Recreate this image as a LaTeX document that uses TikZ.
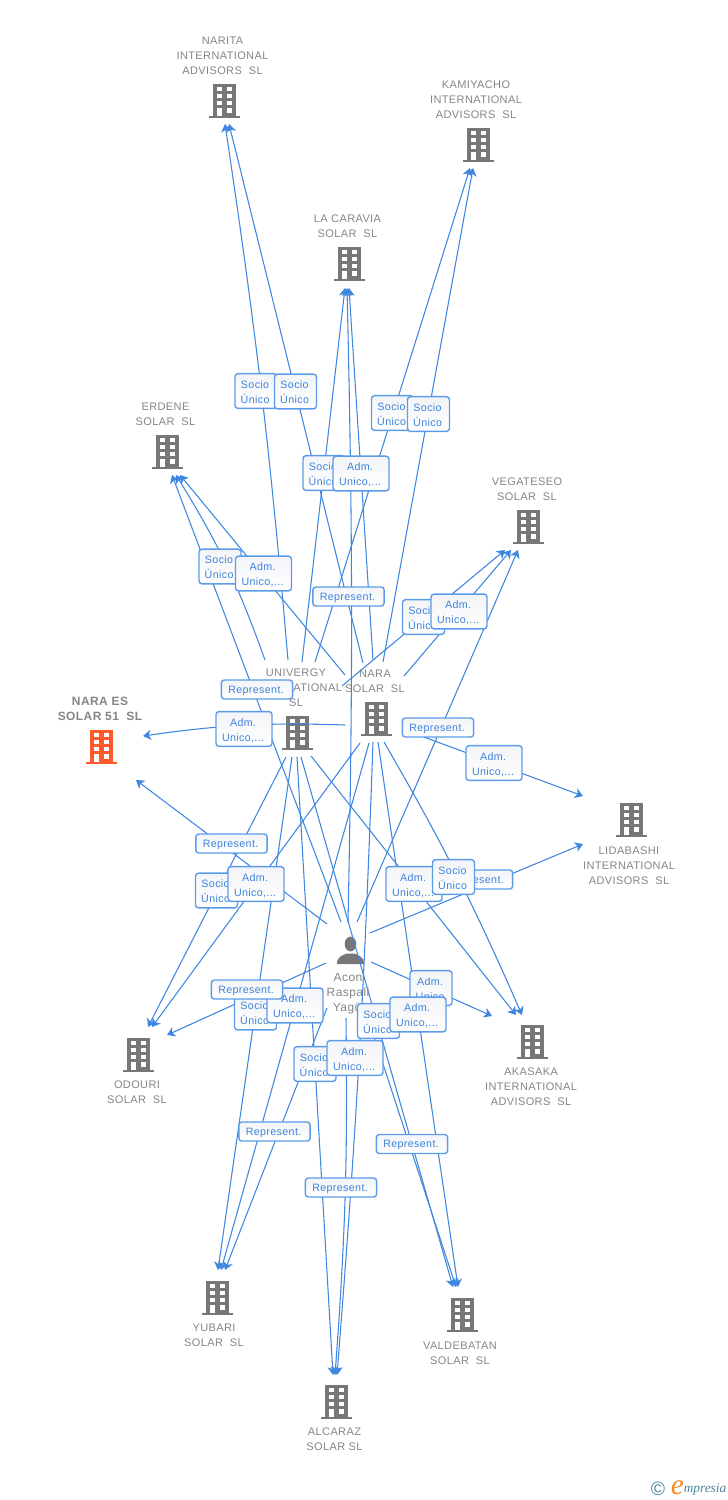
\documentclass[tikz,border=0pt]{standalone}
\usepackage{fontspec}
\usetikzlibrary{calc,arrows.meta}
\setmainfont{Liberation Sans}
\newfontfamily\lblf[LetterSpace=3.5]{Liberation Sans}
\newfontfamily\logof{Liberation Serif}
\definecolor{linkc}{HTML}{3F86E0}
\definecolor{boxc}{HTML}{5C9BEA}
\definecolor{boxtxt}{HTML}{3D82DC}
\definecolor{boxtop}{HTML}{F3F4F7}
\definecolor{capc}{HTML}{858585}
\definecolor{iconc}{HTML}{777777}
\definecolor{orangec}{HTML}{FF5A2C}
\definecolor{logoc}{HTML}{4A8299}
\definecolor{logoo}{HTML}{F58A1F}
\tikzset{
  link/.style={draw=linkc,line width=.8pt,-{Stealth[length=6pt,width=7.6pt,inset=1.7pt]}},
  tag/.style={draw=boxc,line width=1.05pt,rounded corners=2.2pt,top color=boxtop,bottom color=white,
    text=boxtxt,inner sep=0pt,align=center,font=\lblf\fontsize{8pt}{11.25pt}\selectfont},
  soc/.style={tag,minimum width=31.5pt,minimum height=26pt,text height=18pt,text depth=0pt},
  adm/.style={tag,minimum width=42pt,minimum height=26pt,text height=18pt,text depth=0pt},
  rep/.style={tag,minimum width=53.5pt,minimum height=14.2pt,text height=5.7pt,text depth=0pt},
  captxt/.style={text=capc,inner sep=0pt,align=center,yshift=-.4pt,font=\lblf\fontsize{8.25pt}{11.25pt}\selectfont},
  captxtb/.style={captxt,font=\lblf\bfseries\fontsize{9pt}{11.25pt}\selectfont},
  icon/.style={inner sep=0pt,minimum width=23.5pt,minimum height=25.5pt},
}
\newcommand\bldg[4]{%
  \node[icon] (#1) at (#2,#3) {};
  \begin{scope}[shift={(#1.center)}]
    \fill[#4] (-11.5,-17) rectangle (11.5,14.5);
    \fill[#4] (-15.5,14.5) rectangle (15.5,17);
    \foreach \yy in {-14,-7,0}{
      \fill[white] (-7.5,\yy) rectangle (-2.5,\yy+4.3);
      \fill[white] (2.5,\yy) rectangle (7.5,\yy+4.3);
    }
    \fill[white] (-7.5,7) rectangle (-2.5,14.5);
    \fill[white] (2.5,7) rectangle (7.5,11.5);
  \end{scope}}
\newcommand\lnk[5][]{\draw[link,#1] ($(#2)+(#3)$) to ($(#4)+(#5)$);}
\newcommand\twol[2]{#1\kern1.4pt\\#2\kern1.4pt}
\begin{document}
\begin{tikzpicture}[x=.75pt,y=-.75pt]
\useasboundingbox (0,0) rectangle (728,1500);
% buildings
\bldg{narita}{224.5}{101}{iconc}
\bldg{kami}{478}{145}{iconc}
\bldg{carav}{349.5}{264}{iconc}
\bldg{erdene}{167.5}{452}{iconc}
\bldg{vega}{528}{527}{iconc}
\bldg{uni}{297.5}{733}{iconc}
\bldg{nara}{376.5}{719}{iconc}
\bldg{naraes}{101.5}{747}{orangec}
\bldg{lida}{631}{820}{iconc}
\bldg{odouri}{138.5}{1055}{iconc}
\bldg{akasaka}{532.5}{1042}{iconc}
\bldg{yubari}{217}{1298}{iconc}
\bldg{valde}{462.5}{1315}{iconc}
\bldg{alcaraz}{336.5}{1402}{iconc}
% person
\node[icon,minimum width=20pt,minimum height=20pt] (person) at (350.5,950.5) {};
\begin{scope}[shift={(person.center)}]
  \fill[iconc] (0,-6.5) ellipse (5.8 and 7.4);
  \fill[iconc] (-13.5,13.5) .. controls (-13.5,6) and (-8,5) .. (-4,3) -- (4,3) .. controls (8,5) and (13.5,6) .. (13.5,13.5) -- cycle;
\end{scope}
% connectors
\lnk[bend right=1.8]{uni}{-9.5,-73}{narita}{0.5,23}
\lnk{nara}{-13.5,-56}{narita}{4.5,23}
\lnk{uni}{17.5,-71}{kami}{-8,23}
\lnk{nara}{6.5,-57}{kami}{-5,23}
\lnk{uni}{4.5,-71}{carav}{-4.5,24}
\lnk{nara}{-3.5,-59}{carav}{-0.5,24}
\lnk[bend right=1.25]{person}{-2.5,-28.5}{carav}{-2.5,24}
\lnk[bend right=6]{uni}{-32.5,-73}{erdene}{8.5,23}
\lnk{person}{-9.5,-28.5}{erdene}{4.5,23}
\lnk{nara}{-31.5,-44}{erdene}{12.5,23}
\lnk{uni}{44.5,-47}{vega}{-23,23}
\lnk{nara}{27.5,-43}{vega}{-17,23}
\lnk{person}{6.5,-28.5}{vega}{-10,23}
\lnk[bend right=5]{nara}{-31.5,6}{naraes}{41.5,-11}
\lnk{person}{-23.5,-26.5}{naraes}{34.5,33}
\lnk{nara}{28.5,11}{lida}{-48,-24}
\lnk{person}{19.5,-17.5}{lida}{-48,24}
\lnk{uni}{-11.5,24}{odouri}{9.5,-28}
\lnk{nara}{-16.5,24}{odouri}{13.5,-28}
\lnk{person}{-24.5,12.5}{odouri}{28.5,-20}
\lnk{uni}{13.5,23}{akasaka}{-16.5,-27}
\lnk[bend left=3.2]{nara}{7.5,23}{akasaka}{-10.5,-27}
\lnk{person}{20.5,11.5}{akasaka}{-40.5,-26}
\lnk{uni}{-5.5,24}{yubari}{1,-28}
\lnk{nara}{-7.5,24}{yubari}{4,-28}
\lnk{person}{-23.5,57.5}{yubari}{8,-28}
\lnk{uni}{-0.5,24}{alcaraz}{-3.5,-27}
\lnk[bend left=1.25]{nara}{-3.5,23}{alcaraz}{0.5,-27}
\lnk[bend left=2.5]{person}{-4.5,67.5}{alcaraz}{-1.5,-27}
\lnk{nara}{1.5,23}{valde}{-4.5,-28}
\lnk{uni}{3.5,24}{valde}{-9.5,-28}
\lnk{person}{15.5,61.5}{valde}{-6.5,-28}
% captions
\node[captxt] (t-narita) at (222.5,55.5) {NARITA\\INTERNATIONAL\\ADVISORS\ \ SL};
\node[captxt] (t-kami) at (476,99.5) {KAMIYACHO\\INTERNATIONAL\\ADVISORS\ \ SL};
\node[captxt] (t-carav) at (347.5,225.5) {LA CARAVIA\\SOLAR\ \ SL};
\node[captxt] (t-erdene) at (165.5,413.5) {ERDENE\\SOLAR\ \ SL};
\node[captxt] (t-vega) at (527,488.5) {VEGATESEO\\SOLAR\ \ SL};
\node[captxt] (t-uni) at (296,687) {UNIVERGY\\INTERNATIONAL\\SL};
\node[captxt] (t-nara) at (375,680.5) {NARA\\SOLAR\ \ SL};
\node[captxtb] (t-naraes) at (100,708) {NARA ES\\SOLAR 51\ \ SL};
\node[captxt] (t-lida) at (629,865) {LIDABASHI\\INTERNATIONAL\\ADVISORS\ \ SL};
\node[captxt] (t-odouri) at (137,1091.5) {ODOURI\\SOLAR\ \ SL};
\node[captxt] (t-akasaka) at (531,1086) {AKASAKA\\INTERNATIONAL\\ADVISORS\ \ SL};
\node[captxt] (t-yubari) at (214,1334.5) {YUBARI\\SOLAR\ \ SL};
\node[captxt] (t-valde) at (460,1352.5) {VALDEBATAN\\SOLAR\ \ SL};
\node[captxt] (t-alcaraz) at (334.5,1438.5) {ALCARAZ\\SOLAR SL};
\node[captxt,font=\lblf\fontsize{9pt}{11.25pt}\selectfont] (t-person) at (348,993.5) {Acon\\Raspall\\Yagüe\kern-4pt};
% link labels, in stacking order
\node[soc] (s1) at (256,391) {\twol{Socio}{Único}};
\node[soc] (s2) at (295.5,391.5) {\twol{Socio}{Único}};
\node[soc] (s3) at (392.5,413) {\twol{Socio}{Único}};
\node[soc] (s4) at (428.5,414) {\twol{Socio}{Único}};
\node[soc] (s5) at (324,473) {\twol{Socio}{Único}};
\node[adm] (a1) at (361,473.5) {\twol{Adm.}{Unico,...}};
\node[soc] (s6) at (220,566.5) {\twol{Socio}{Único}};
\node[adm] (a2) at (263.5,573.5) {\twol{Adm.}{Unico,...}};
\node[rep] (r1) at (348.5,596.5) {Represent.\kern1.4pt};
\node[soc] (s7) at (423.5,617) {\twol{Socio}{Único}};
\node[adm] (a3) at (459,611.5) {\twol{Adm.}{Unico,...}};
\node[adm] (a4) at (244,729) {\twol{Adm.}{Unico,...}};
\node[rep] (r2) at (257,689.5) {Represent.\kern1.4pt};
\node[rep] (r3) at (438,727.5) {Represent.\kern1.4pt};
\node[adm] (a5) at (494,763) {\twol{Adm.}{Unico,...}};
\node[rep] (r4) at (231.5,843.5) {Represent.\kern1.4pt};
\node[soc] (s8) at (216.5,890.5) {\twol{Socio}{Único}};
\node[adm] (a6) at (256,884) {\twol{Adm.}{Unico,...}};
\node[rep] (r5) at (477,879.5) {Represent.\kern1.4pt};
\node[adm] (a7) at (414,884) {\twol{Adm.}{Unico,...}};
\node[soc] (s9) at (453.5,877) {\twol{Socio}{Único}};
\node[soc] (s10) at (255.5,1012.5) {\twol{Socio}{Único}};
\node[adm] (a8) at (295,1005.5) {\twol{Adm.}{Unico,...}};
\node[rep] (r6) at (247,989.5) {Represent.\kern1.4pt};
\node[soc] (a9) at (431,988) {\twol{Adm.}{Unico}};
\node[soc] (s11) at (378.5,1021) {\twol{Socio}{Único}};
\node[adm] (a10) at (418,1014.5) {\twol{Adm.}{Unico,...}};
\node[soc] (s12) at (315,1064) {\twol{Socio}{Único}};
\node[adm] (a11) at (355,1058) {\twol{Adm.}{Unico,...}};
\node[rep] (r7) at (274.5,1131.5) {Represent.\kern1.4pt};
\node[rep] (r8) at (412,1144) {Represent.\kern1.4pt};
\node[rep] (r9) at (341,1187.5) {Represent.\kern1.4pt};
% logo
\node[text=logoc,inner sep=0pt,font=\fontsize{14.5pt}{14.5pt}\selectfont] (logo-c) at (658,1489) {©};
\node[text=logoo,inner sep=0pt,font=\logof\itshape\fontsize{22pt}{22pt}\selectfont] (logo-e) at (677.5,1488) {e};
\node[text=logoc,inner sep=0pt,anchor=west,font=\logof\itshape\fontsize{10pt}{10pt}\selectfont] (logo-t) at (683.5,1489) {mpresia};
\end{tikzpicture}
\end{document}
